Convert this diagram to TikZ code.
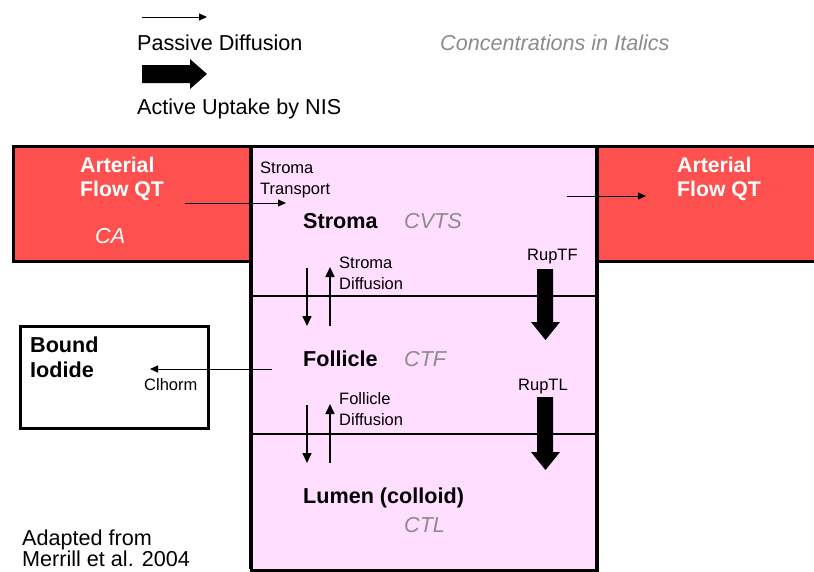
\documentclass[tikz,border=0pt]{standalone}
\usepackage{fontspec}
\setmainfont{Liberation Sans}
\usetikzlibrary{arrows.meta}
\definecolor{artred}{HTML}{FF5050}
\definecolor{pinkbg}{HTML}{FFDEFF}
\definecolor{itgray}{HTML}{8C8C8C}
\tikzset{
  big/.style={font=\fontsize{21.6}{25}\selectfont, inner sep=0pt, anchor=base west},
  bigb/.style={font=\fontsize{21.6}{25}\selectfont\bfseries, inner sep=0pt, anchor=base west},
  small/.style={font=\fontsize{16.5}{19}\selectfont, inner sep=0pt, anchor=base west},
  conc/.style={font=\fontsize{21.6}{25}\selectfont\itshape, text=itgray, inner sep=0pt, anchor=base west},
  whiteb/.style={font=\fontsize{21.2}{25}\selectfont\bfseries, text=white, inner sep=0pt, anchor=base west},
  whitei/.style={font=\fontsize{21.6}{25}\selectfont\itshape, text=white, inner sep=0pt, anchor=base west},
  thin/.style={line width=0.9pt, -{Triangle[length=8pt,width=7pt]}},
  diff/.style={line width=1.6pt, -{Triangle[length=10pt,width=9pt]}},
  boxline/.style={line width=3pt},
}
\begin{document}
\begin{tikzpicture}[x=1pt,y=-1pt]
\useasboundingbox (0,0) rectangle (814,571);
\fill[white] (0,0) rectangle (814,571);
% boxes
\node[fill=pinkbg, draw=black, boxline, minimum width=346pt, minimum height=424pt, anchor=north west, inner sep=0pt] (thyroid) at (250,145) {};
\node[fill=artred, draw=black, boxline, minimum width=238pt, minimum height=115pt, anchor=north west, inner sep=0pt] (artL) at (12,145) {};
\node[fill=artred, draw=black, boxline, minimum width=230pt, minimum height=115pt, anchor=north west, inner sep=0pt] (artR) at (596,145) {};
\draw[boxline] (250,145) -- (250,569);
\draw[boxline] (596,145) -- (596,569);
\coordinate (d1l) at (250,296); \coordinate (d1r) at (596,296);
\coordinate (d2l) at (250,434); \coordinate (d2r) at (596,434);
\draw[line width=2.5pt] (d1l) -- (d1r);
\draw[line width=2.5pt] (d2l) -- (d2r);
\node[draw=black, boxline, fill=white, minimum width=188pt, minimum height=102pt, anchor=north west, inner sep=0pt] (bound) at (19,325) {};

% legend
\coordinate (lg1) at (142,17); \coordinate (lg2) at (207,17);
\draw[thin] (lg1) -- (lg2);
\node[big] (pd) at (137,50) {Passive Diffusion};
\fill[black] (142,65) -- (190,65) -- (190,59) -- (207,74) -- (190,89) -- (190,83) -- (142,83) -- cycle;
\node[big] (au) at (137,114) {Active Uptake by NIS};
\node[conc] (ci) at (440,50) {Concentrations in Italics};

% arterial
\node[whiteb] (al1) at (80,172) {Arterial};
\node[whiteb] (al2) at (80,196) {Flow QT};
\node[whitei] (ca) at (95,243) {CA};
\node[whiteb] (ar1) at (677,172) {Arterial};
\node[whiteb] (ar2) at (677,196) {Flow QT};

% stroma
\node[small] (st1) at (260,173) {Stroma};
\node[small] (st2) at (260,194) {Transport};
\coordinate (sta) at (185,203); \coordinate (stb) at (286,203);
\draw[thin] (sta) -- (stb);
\coordinate (ota) at (567,196); \coordinate (otb) at (646,196);
\draw[thin] (ota) -- (otb);
\node[bigb] (stroma) at (303,228) {Stroma};
\node[conc] (cvts) at (404,228) {CVTS};

\node[small] (rtf) at (527,260) {RupTF};
\fill[black] (537,269) -- (553,269) -- (553,322) -- (560,322) -- (545.5,340) -- (531,322) -- (537,322) -- cycle;

\node[small] (sd1) at (339,268) {Stroma};
\node[small] (sd2) at (339,289) {Diffusion};
\coordinate (sdd1) at (307,268); \coordinate (sdd2) at (307,326);
\draw[diff] (sdd1) -- (sdd2);
\coordinate (sdu1) at (330,326); \coordinate (sdu2) at (330,267);
\draw[diff] (sdu1) -- (sdu2);

% follicle
\node[bigb] (foll) at (303,366) {Follicle};
\node[conc] (ctf) at (404,366) {CTF};
\node[bigb] (bi1) at (30,352) {Bound};
\node[bigb] (bi2) at (30,377) {Iodide};
\coordinate (cla) at (272,369); \coordinate (clb) at (150,369);
\draw[thin] (cla) -- (clb);
\node[small] (clh) at (144,390) {Clhorm};

\node[small] (rtl) at (518,390) {RupTL};
\fill[black] (537,397) -- (553,397) -- (553,452) -- (560,452) -- (545.5,470) -- (531,452) -- (537,452) -- cycle;

\node[small] (fd1) at (339,404) {Follicle};
\node[small] (fd2) at (339,425) {Diffusion};
\coordinate (fdd1) at (307,405); \coordinate (fdd2) at (307,463);
\draw[diff] (fdd1) -- (fdd2);
\coordinate (fdu1) at (330,463); \coordinate (fdu2) at (330,404);
\draw[diff] (fdu1) -- (fdu2);

% lumen
\node[bigb] (lum) at (303,503) {Lumen (colloid)};
\node[conc] (ctl) at (404,532) {CTL};

\node[big] (ad1) at (22,545) {Adapted from};
\node[big] (ad2) at (22,566) {Merrill et al. 2004};
\end{tikzpicture}
\end{document}
